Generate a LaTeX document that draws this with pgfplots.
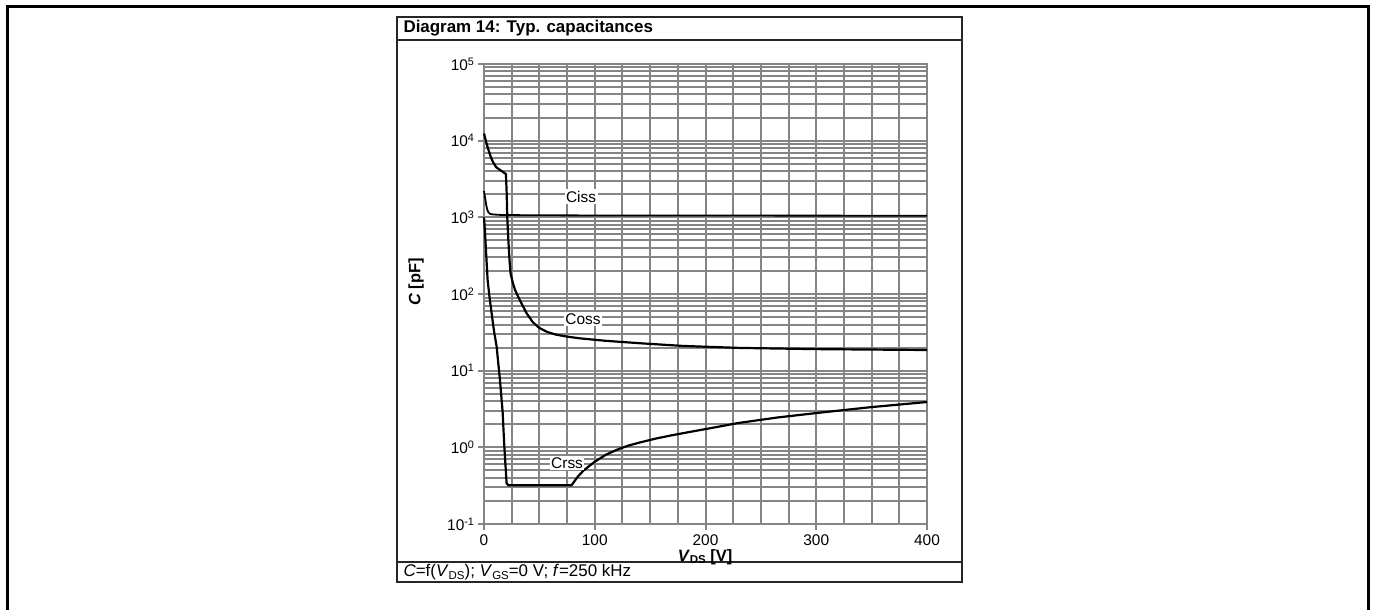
\documentclass[border=0pt]{standalone}
\usepackage{fontspec}
\setmainfont{Liberation Sans}
\usepackage{pgfplots}
\pgfplotsset{compat=1.18}
\definecolor{gridgray}{gray}{0.52}
\newcommand\sub[1]{\raisebox{-0.3ex}{\fontsize{11.5}{11.5}\selectfont #1}}
\begin{document}
\begin{tikzpicture}[x=1bp,y=1bp]
\useasboundingbox (0,0) rectangle (1375,610);
\draw[line width=3bp] (7,0) -- (7,603) -- (1368,603) -- (1368,0);
\draw[line width=1.6bp, black!85] (397,28) rectangle (962,593);
\draw[line width=1.6bp, black!85] (397,570) -- (962,570);
\draw[line width=1.6bp, black!85] (397,48) -- (962,48);
\node[anchor=west, font=\fontsize{17}{17}\selectfont\bfseries] at (400,581.5) {Diagram 14: Typ. capacitances};
\node[anchor=west, font=\fontsize{17}{17}\selectfont] at (400,38) {\textit{C}=f(\textit{V}\sub{DS}); \textit{V}\sub{GS}=0 V; \textit{f}=250 kHz};
\node[font=\fontsize{16.5}{16.5}\selectfont\bfseries] at (705,53) {\textit{V}\sub{DS} [V]};
\node[rotate=90, font=\fontsize{16.5}{16.5}\selectfont\bfseries] at (416,328) {\textit{C} [pF]};
\begin{axis}[at={(484bp,86bp)}, anchor=south west, scale only axis,
  width=443bp, height=460bp,
  xmin=0, xmax=400, ymin=0.1, ymax=1e5, ymode=log,
  xtick={0,100,200,300,400},
  minor xtick={25,50,75,125,150,175,225,250,275,325,350,375},
  ytick={0.1,1,10,100,1000,10000,100000},
  yticklabels={10\textsuperscript{-1},10\textsuperscript{0},10\textsuperscript{1},10\textsuperscript{2},10\textsuperscript{3},10\textsuperscript{4},10\textsuperscript{5}},
  minor ytick={0.2,0.3,0.4,0.5,0.6,0.7,0.8,0.9,2,3,4,5,6,7,8,9,20,30,40,50,60,70,80,90,200,300,400,500,600,700,800,900,2000,3000,4000,5000,6000,7000,8000,9000,20000,30000,40000,50000,60000,70000,80000,90000},
  grid=both,
  major grid style={gridgray, line width=2bp},
  minor grid style={gridgray, line width=2bp},
  axis line style={gridgray, line width=2bp},
  major tick style={gridgray, line width=2bp},
  minor tick length=0pt, major tick length=6bp, tick align=outside,
  xtick pos=bottom, ytick pos=left,
  xticklabels={0,100,200,300,400},
  tick label style={font=\fontsize{15.5}{15.5}\selectfont},
  xticklabel style={yshift=-1bp},
  clip=false,
]
\addplot[black, line width=1.8bp] coordinates {
(0,2200) (1,1800) (2,1450) (3,1250) (4,1160) (5.5,1110) (8,1090) (15,1075) (30,1068) (60,1062) (100,1058) (200,1055) (300,1052) (400,1050)};
\addplot[black, line width=2.2bp] coordinates {
(0,12400) (2,9500) (4,7600) (6,6200) (8,5300) (11,4500) (15,4100) (19.8,3660) (20.5,2000) (21,1000) (22,500) (23,280) (24,185) (26,140) (28,113) (32,85) (35,70) (38.5,56) (44,43) (50,36) (57,32) (65,29.5) (75,27.8) (86.5,26.4) (110,24.5) (140.5,22.8) (180,21) (230.6,19.8) (300,19.1) (400,18.6)};
\addplot[black, line width=2.2bp] coordinates {
(0,1000) (1,600) (2,320) (3.3,150) (5,90) (6.9,56) (9,33) (11.4,20.6) (13,12) (14.4,7.6) (15.7,4.5) (16.8,2.9) (18.3,1.05) (19.5,0.55) (20.4,0.34) (22,0.32) (50,0.32) (79,0.32) (85,0.42) (90,0.5) (100,0.65) (110,0.8) (120,0.93) (130,1.05) (140,1.15) (155,1.3) (170,1.44) (185,1.58) (200,1.73) (230,2.08) (265,2.45) (300,2.8) (350,3.35) (400,3.9)};
\node[fill=white, inner sep=1.5bp, font=\fontsize{15.5}{15.5}\selectfont] at (axis cs:87.6,1870) {Ciss};
\node[fill=white, inner sep=1.5bp, font=\fontsize{15.5}{15.5}\selectfont] at (axis cs:89.4,47) {Coss};
\node[fill=white, inner sep=1.5bp, font=\fontsize{15.5}{15.5}\selectfont] at (axis cs:75,0.62) {Crss};
\end{axis}
\end{tikzpicture}
\end{document}
